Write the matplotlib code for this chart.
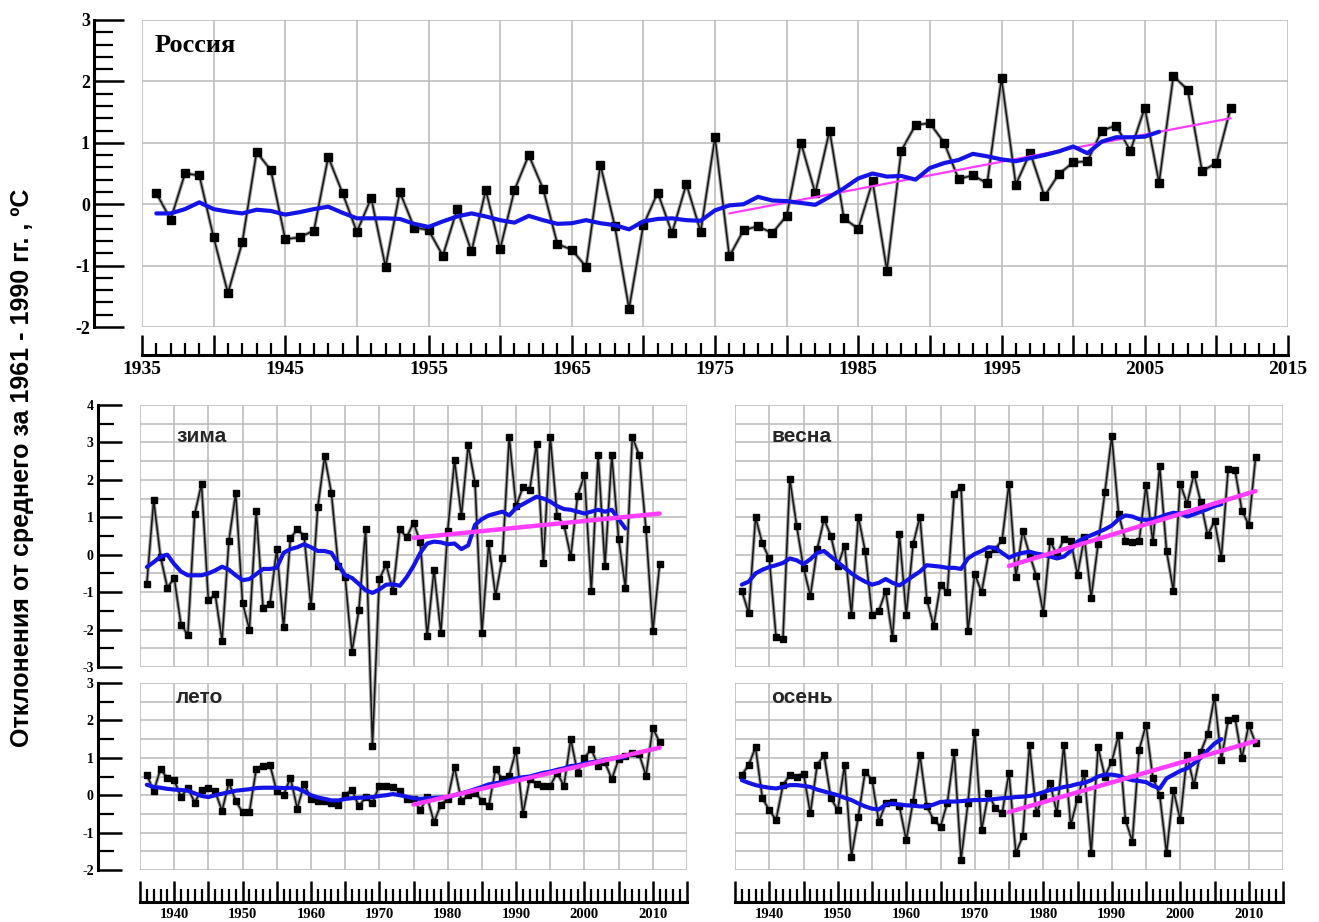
import matplotlib
matplotlib.use("Agg")
import matplotlib.pyplot as plt
from matplotlib.ticker import MultipleLocator, FuncFormatter

# ---------------- data ----------------
years = list(range(1936, 2012))
smooth_years = list(range(1936, 2007))

russia = [0.18, -0.25, 0.5, 0.47, -0.54, -1.45, -0.62, 0.85, 0.55, -0.57,
          -0.54, -0.43, 0.77, 0.18, -0.45, 0.1, -1.02, 0.2, -0.38, -0.42,
          -0.84, -0.08, -0.77, 0.23, -0.73, 0.23, 0.8, 0.25, -0.65, -0.74,
          -1.02, 0.64, -0.35, -1.7, -0.34, 0.19, -0.47, 0.33, -0.45, 1.09,
          -0.85, -0.42, -0.36, -0.47, -0.19, 1.0, 0.18, 1.2, -0.23, -0.4,
          0.37, -1.08, 0.87, 1.29, 1.32, 1.0, 0.41, 0.47, 0.34, 2.05,
          0.32, 0.84, 0.13, 0.49, 0.68, 0.7, 1.2, 1.28, 0.87, 1.57,
          0.35, 2.09, 1.86, 0.54, 0.67, 1.57]
russia_smooth = [-0.15, -0.15, -0.08, 0.03, -0.08, -0.12, -0.15, -0.09, -0.11, -0.17,
                 -0.13, -0.08, -0.04, -0.14, -0.23, -0.23, -0.23, -0.24, -0.32, -0.37,
                 -0.28, -0.2, -0.15, -0.2, -0.26, -0.3, -0.19, -0.26, -0.32, -0.31,
                 -0.26, -0.31, -0.34, -0.41, -0.28, -0.24, -0.23, -0.26, -0.27, -0.1,
                 -0.02, 0.0, 0.12, 0.06, 0.05, 0.02, -0.01, 0.12, 0.26, 0.42,
                 0.5, 0.45, 0.46, 0.4, 0.59, 0.67, 0.72, 0.82, 0.78, 0.73,
                 0.7, 0.75, 0.8, 0.86, 0.94, 0.83, 1.02, 1.09, 1.09, 1.1, 1.18]
russia_trend_years = [1976, 2011]
russia_trend = [-0.15, 1.4]

winter = [-0.78, 1.46, -0.05, -0.88, -0.63, -1.87, -2.14, 1.09, 1.89, -1.22,
          -1.06, -2.3, 0.37, 1.65, -1.29, -2.0, 1.16, -1.42, -1.33, 0.15,
          -1.94, 0.44, 0.68, 0.5, -1.38, 1.27, 2.63, 1.64, -0.3, -0.6,
          -2.59, -1.49, 0.68, -5.1, -0.66, -0.26, -0.98, 0.68, 0.46, 0.86,
          0.33, -2.18, -0.4, -2.09, 0.64, 2.52, 1.04, 2.92, 1.91, -2.09,
          0.3, -1.1, -0.08, 3.15, 1.3, 1.8, 1.73, 2.97, -0.21, 3.15,
          1.04, 0.8, -0.05, 1.58, 2.12, -0.97, 2.66, -0.3, 2.66, 0.42,
          -0.88, 3.15, 2.66, 0.68, -2.05, -0.26]
winter_smooth = [-0.33, -0.2, -0.05, 0.0, -0.25, -0.45, -0.55, -0.55, -0.55, -0.5,
                 -0.42, -0.32, -0.4, -0.55, -0.68, -0.65, -0.52, -0.38, -0.38, -0.35,
                 0.05, 0.15, 0.2, 0.28, 0.2, 0.1, 0.1, 0.05, -0.25, -0.55,
                 -0.62, -0.78, -0.95, -1.02, -0.93, -0.8, -0.79, -0.83, -0.6, -0.3,
                 0.05, 0.3, 0.35, 0.33, 0.28, 0.3, 0.15, 0.25, 0.8, 0.95,
                 1.05, 1.1, 1.15, 1.05, 1.25, 1.35, 1.45, 1.55, 1.5, 1.42,
                 1.3, 1.22, 1.2, 1.15, 1.1, 1.15, 1.2, 1.15, 1.2, 0.95, 0.7]
winter_trend = [0.45, 1.1]

spring = [-0.97, -1.56, 1.0, 0.3, -0.1, -2.21, -2.25, 2.03, 0.77, -0.35,
          -1.1, 0.15, 0.95, 0.5, -0.3, 0.24, -1.6, 1.02, 0.1, -1.6,
          -1.5, -0.97, -2.23, 0.55, -1.6, 0.28, 1.02, -1.2, -1.9, -0.8,
          -1.0, 1.63, 1.8, -2.05, -0.52, -1.0, 0.01, 0.15, 0.4, 1.9,
          -0.6, 0.64, 0.0, -0.57, -1.56, 0.37, 0.0, 0.42, 0.37, -0.53,
          0.46, -1.15, 0.28, 1.67, 3.17, 1.09, 0.37, 0.35, 0.37, 1.85,
          0.33, 2.37, 0.1, -0.97, 1.9, 1.36, 2.16, 1.4, 0.52, 0.9,
          -0.08, 2.3, 2.25, 1.18, 0.8, 2.6]
spring_smooth = [-0.8, -0.72, -0.5, -0.4, -0.33, -0.28, -0.22, -0.1, -0.15, -0.25,
                 -0.12, 0.05, 0.1, -0.05, -0.2, -0.35, -0.5, -0.62, -0.72, -0.8,
                 -0.75, -0.65, -0.75, -0.82, -0.7, -0.57, -0.45, -0.28, -0.3, -0.32,
                 -0.35, -0.35, -0.38, -0.1, 0.02, 0.1, 0.2, 0.18, 0.05, -0.08,
                 0.0, 0.05, 0.08, 0.03, 0.0, -0.05, -0.1, -0.05, 0.1, 0.35,
                 0.45, 0.52, 0.6, 0.68, 0.78, 0.95, 1.05, 1.02, 0.95, 0.93,
                 0.95, 1.0, 1.07, 1.12, 1.1, 1.02, 1.08, 1.15, 1.22, 1.3, 1.35]
spring_trend = [-0.3, 1.7]

summer = [0.55, 0.1, 0.7, 0.45, 0.4, -0.05, 0.2, -0.2, 0.15, 0.2,
          0.1, -0.42, 0.34, -0.15, -0.46, -0.45, 0.7, 0.78, 0.82, 0.1,
          0.0, 0.47, -0.36, 0.3, -0.1, -0.15, -0.15, -0.2, -0.25, 0.0,
          0.15, -0.3, -0.05, -0.2, 0.25, 0.25, 0.22, 0.1, -0.1, -0.1,
          -0.4, -0.05, -0.72, -0.25, -0.1, 0.75, -0.15, 0.0, 0.07, -0.15,
          -0.3, 0.7, 0.43, 0.52, 1.2, -0.5, 0.43, 0.3, 0.25, 0.25,
          0.6, 0.25, 1.5, 0.6, 1.0, 1.23, 0.79, 0.88, 0.43, 0.96,
          1.05, 1.14, 1.1, 0.52, 1.8, 1.41]
summer_smooth = [0.28, 0.22, 0.2, 0.17, 0.15, 0.14, 0.12, 0.05, -0.02, -0.05,
                 0.0, 0.04, 0.08, 0.12, 0.14, 0.16, 0.19, 0.2, 0.2, 0.2,
                 0.19, 0.2, 0.18, 0.1, 0.0, -0.06, -0.1, -0.14, -0.14, -0.1,
                 -0.08, -0.07, -0.06, -0.05, -0.02, 0.0, 0.03, 0.0, -0.04, -0.08,
                 -0.1, -0.08, -0.07, -0.06, -0.05, 0.0, 0.05, 0.1, 0.16, 0.22,
                 0.29, 0.32, 0.35, 0.4, 0.45, 0.48, 0.5, 0.55, 0.6, 0.63,
                 0.68, 0.72, 0.78, 0.8, 0.85, 0.88, 0.9, 0.95, 0.98, 1.0, 1.02]
summer_trend = [-0.25, 1.27]

autumn = [0.54, 0.81, 1.28, -0.08, -0.4, -0.66, 0.27, 0.54, 0.5, 0.58,
          -0.48, 0.81, 1.07, -0.08, -0.4, 0.81, -1.64, -0.57, 0.63, 0.41,
          -0.71, -0.22, -0.17, -0.3, -1.2, -0.17, 1.07, -0.3, -0.66, -0.84,
          -0.2, 1.16, -1.73, -0.22, 1.7, -0.93, 0.05, -0.35, -0.48, 0.6,
          -1.55, -1.1, 1.34, -0.48, -0.04, 0.32, -0.48, 1.34, -0.8, -0.1,
          0.6, -1.55, 1.28, 0.5, 0.9, 1.61, -0.66, -1.24, 1.21, 1.88,
          0.47, 0.0, -1.55, 0.14, -0.66, 1.07, 0.27, 1.16, 1.63, 2.63,
          0.95, 2.01, 2.06, 0.99, 1.88, 1.39]
autumn_smooth = [0.4, 0.33, 0.27, 0.23, 0.2, 0.18, 0.22, 0.27, 0.27, 0.25,
                 0.22, 0.15, 0.1, 0.05, 0.0, -0.07, -0.13, -0.22, -0.3, -0.36,
                 -0.38, -0.25, -0.22, -0.25, -0.27, -0.28, -0.3, -0.3, -0.25, -0.18,
                 -0.17, -0.17, -0.16, -0.14, -0.13, -0.13, -0.12, -0.1, -0.08, -0.07,
                 -0.05, -0.04, -0.02, 0.02, 0.08, 0.14, 0.17, 0.22, 0.25, 0.3,
                 0.33, 0.4, 0.5, 0.55, 0.55, 0.52, 0.45, 0.4, 0.38, 0.35,
                 0.25, 0.18, 0.45, 0.55, 0.65, 0.72, 0.85, 1.0, 1.2, 1.38, 1.5]
autumn_trend = [-0.45, 1.45]
season_trend_years = [1975, 2011]

# ---------------- style ----------------
plt.rcParams["axes.unicode_minus"] = False
SERIF = ["Liberation Serif", "DejaVu Serif"]
SANS = ["Liberation Sans", "DejaVu Sans"]
BLUE = "#1414e6"
PINK = "#ff3cff"
GRID = "#bdbdbd"

W, H = 1319, 922


def rect(x0, y0, x1, y1):
    # pixel box (top-left origin) -> figure fraction
    return [x0 / W, 1 - y1 / H, (x1 - x0) / W, (y1 - y0) / H]


def pt(px):
    return px * 72 / 100


def draw_series(ax, vals, smooth, trend_x, trend, msize, lw_blue, lw_pink, pink_top, clip=True):
    # grey halo under the thin black line, like the scanned original
    ax.plot(years, vals, color="#a0a0a0", lw=2.6, zorder=2.5, clip_on=clip)
    ax.plot(years, vals, color="#151515", lw=1.1, marker="s", ms=msize,
            mfc="black", mec="black", zorder=3, clip_on=clip)
    ax.plot(smooth_years, smooth, color=BLUE, lw=lw_blue, zorder=4,
            solid_capstyle="round", solid_joinstyle="round")
    ax.plot(trend_x, trend, color=PINK, lw=lw_pink, zorder=5 if pink_top else 3.5,
            solid_capstyle="round")


def style_grid(ax, ylim, yminor):
    ax.set_xlim(1935, 2015)
    ax.set_ylim(*ylim)
    ax.xaxis.set_major_locator(MultipleLocator(5))
    ax.xaxis.set_minor_locator(MultipleLocator(1))
    ax.yaxis.set_major_locator(MultipleLocator(1))
    ax.yaxis.set_minor_locator(MultipleLocator(yminor))
    ax.grid(True, which="major", axis="x", color=GRID, lw=1.2, zorder=0)
    ax.grid(True, which="both" if yminor == 0.5 else "major", axis="y",
            color=GRID, lw=1.2, zorder=0)
    ax.set_axisbelow(True)
    for s in ax.spines.values():
        s.set_visible(False)


def style_left(ax, out_px, maj, mnr, size):
    sp = ax.spines["left"]
    sp.set_visible(True)
    sp.set_position(("outward", pt(out_px)))
    sp.set_linewidth(2.2)
    ax.tick_params(axis="y", which="major", direction="in", length=pt(maj), width=1.8,
                   labelsize=size, pad=3)
    ax.tick_params(axis="y", which="minor", direction="in", length=pt(mnr), width=1.6)
    for lab in ax.get_yticklabels():
        lab.set_fontfamily(SERIF)
        lab.set_fontweight("bold")


def style_bottom(ax, out_px, maj, mnr, size, every, pad):
    sp = ax.spines["bottom"]
    sp.set_visible(True)
    sp.set_position(("outward", pt(out_px)))
    sp.set_linewidth(2.2)
    ax.tick_params(axis="x", which="major", direction="in", length=pt(maj), width=1.8,
                   labelsize=size, pad=pad)
    ax.tick_params(axis="x", which="minor", direction="in", length=pt(mnr), width=1.6)
    ax.xaxis.set_major_formatter(FuncFormatter(
        lambda v, p: "%d" % v if (round(v) - every[0]) % every[1] == 0 else ""))
    for lab in ax.get_xticklabels():
        lab.set_fontfamily(SERIF)
        lab.set_fontweight("bold")


def no_axis(ax, which):
    if which == "x":
        ax.tick_params(axis="x", which="both", bottom=False, labelbottom=False)
    else:
        ax.tick_params(axis="y", which="both", left=False, labelleft=False)


fig = plt.figure(figsize=(W / 100, H / 100), dpi=100)

# ---------------- top panel: Russia, annual ----------------
ax_top = fig.add_axes(rect(142, 20, 1288, 327))
style_grid(ax_top, (-2, 3), 0.2)
draw_series(ax_top, russia, russia_smooth, russia_trend_years, russia_trend,
            msize=6, lw_blue=3.0, lw_pink=1.6, pink_top=False)
style_left(ax_top, 48, 30, 19, 13)
style_bottom(ax_top, 28, 20, 12, 14, (1935, 10), 4)
ax_top.text(1935.9, 2.58, "Россия", fontfamily=SERIF, fontweight="bold",
            fontsize=19, va="center", ha="left")

# ---------------- seasons ----------------
ax_win = fig.add_axes(rect(140, 405, 687, 667))
ax_sum = fig.add_axes(rect(140, 683, 687, 870))
ax_spr = fig.add_axes(rect(735, 405, 1283, 667))
ax_aut = fig.add_axes(rect(735, 683, 1283, 870))
ax_win.set_zorder(3)
ax_sum.set_zorder(1)

panels = [
    (ax_win, winter, winter_smooth, winter_trend, (-3, 4), "зима", 3.15, False),
    (ax_spr, spring, spring_smooth, spring_trend, (-3, 4), "весна", 3.15, True),
    (ax_sum, summer, summer_smooth, summer_trend, (-2, 3), "лето", 2.62, True),
    (ax_aut, autumn, autumn_smooth, autumn_trend, (-2, 3), "осень", 2.62, True),
]
for ax, vals, smooth, trend, ylim, name, ty, clip in panels:
    style_grid(ax, ylim, 0.5)
    draw_series(ax, vals, smooth, season_trend_years, trend,
                msize=4.2, lw_blue=3.0, lw_pink=3.2, pink_top=True, clip=clip)
    ax.text(1940.3, ty, name, fontfamily=SANS, fontweight="bold", fontsize=15,
            color="#262626", va="center", ha="left", zorder=6)

style_left(ax_win, 42, 24, 16, 10)
style_left(ax_sum, 42, 24, 16, 10)
no_axis(ax_spr, "y")
no_axis(ax_aut, "y")
no_axis(ax_win, "x")
no_axis(ax_spr, "x")
style_bottom(ax_sum, 32, 21, 13, 10.5, (1940, 10), 4)
style_bottom(ax_aut, 32, 21, 13, 10.5, (1940, 10), 4)

fig.text(0.017, 0.493, "Отклонения от среднего за 1961 - 1990 гг. , ºС",
         rotation=90, va="center", ha="center", fontsize=18, fontweight="bold",
         fontfamily=["Liberation Sans Narrow", "Liberation Sans", "DejaVu Sans"])

fig.savefig("out.png", dpi=100, facecolor="white")
